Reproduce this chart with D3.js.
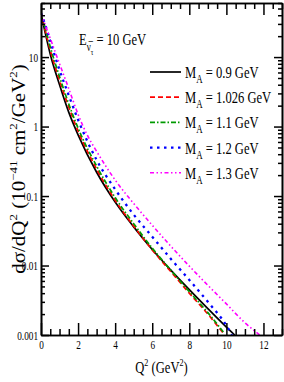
<!DOCTYPE html>
<html>
<head>
<meta charset="utf-8">
<script src="https://cdn.jsdelivr.net/npm/d3@7"></script>
<style>
  body { margin: 0; background: #fff; }
  text { font-family: "Liberation Serif", "Times New Roman", serif; fill: #000; }
</style>
</head>
<body>
<div id="vis"></div>
<script>
// Q^2 (GeV^2) and dsigma/dQ^2 (10^-41 cm^2/GeV^2)
const q2Ma090 = [0, 0.25, 0.5, 1, 1.5, 2, 3, 4, 5, 6, 7, 8, 9, 10, 10.45];
const dsMa090 = [43, 21, 11, 4.0, 1.6, 0.76, 0.22, 0.082, 0.036, 0.017, 0.0086, 0.0045, 0.0024, 0.0013, 0.001];

const q2Ma1026 = [0, 0.25, 0.5, 1, 1.5, 2, 3, 4, 5, 6, 7, 8, 9, 9.85];
const dsMa1026 = [43, 23, 12.5, 4.6, 1.9, 0.86, 0.245, 0.087, 0.037, 0.0168, 0.0082, 0.004, 0.002, 0.00105];

const q2Ma110 = [0, 0.25, 0.5, 1, 1.5, 2, 3, 4, 5, 6, 7, 8, 9, 9.9];
const dsMa110 = [43, 25, 14, 5.2, 2.1, 0.95, 0.27, 0.095, 0.04, 0.0178, 0.0086, 0.0042, 0.0021, 0.00105];

const q2Ma120 = [0, 0.25, 0.5, 1, 1.5, 2, 3, 4, 5, 6, 7, 8, 9, 10, 10.3];
const dsMa120 = [43, 28, 17, 6.5, 2.8, 1.25, 0.33, 0.125, 0.054, 0.026, 0.0125, 0.0062, 0.003, 0.00137, 0.001];

const q2Ma130 = [0, 0.25, 0.5, 1, 1.5, 2, 2.5, 3, 4, 5, 6, 7, 8, 9, 10, 11, 11.8];
const dsMa130 = [43, 28, 18.5, 8.0, 3.5, 1.5, 0.75, 0.44, 0.17, 0.078, 0.038, 0.019, 0.0098, 0.0052, 0.0028, 0.0015, 0.001];

const maLabels = ["0.9", "1.026", "1.1", "1.2", "1.3"];
const xMajorTicks = [0, 2, 4, 6, 8, 10, 12];
const yMajorTicks = [0.001, 0.01, 0.1, 1, 10];

const WIDTH = 284;
const HEIGHT = 382;
const MARGIN = { LEFT: 41, RIGHT: 2, TOP: 3, BOTTOM: 47 };
const SQUEEZE = 0.74; // the lettering in the picture is narrow

const series = [
  { q2: q2Ma090, ds: dsMa090, color: "#000000", dash: null, width: 1.7 },
  { q2: q2Ma1026, ds: dsMa1026, color: "#ff0000", dash: "5,3", width: 1.7 },
  { q2: q2Ma110, ds: dsMa110, color: "#009a00", dash: "5,2,1.5,2", width: 1.7 },
  { q2: q2Ma120, ds: dsMa120, color: "#0000ff", dash: "2.5,4.5", width: 2.3 },
  { q2: q2Ma130, ds: dsMa130, color: "#ff00ff", dash: "4,2.5,1.5,2.5,1.5,2.5", width: 1.6 },
];

const x = d3.scaleLinear()
  .domain([0, 13])
  .range([MARGIN.LEFT, WIDTH - MARGIN.RIGHT]);

const y = d3.scaleLog()
  .domain([0.001, 60])
  .range([HEIGHT - MARGIN.BOTTOM, MARGIN.TOP]);

const svg = d3.select("#vis")
  .append("svg")
  .attr("width", WIDTH)
  .attr("height", HEIGHT);

svg.append("defs").append("clipPath")
  .attr("id", "plot-clip")
  .append("rect")
  .attr("x", x.range()[0])
  .attr("y", y.range()[1])
  .attr("width", x.range()[1] - x.range()[0])
  .attr("height", y.range()[0] - y.range()[1]);

// curves
const line = d3.line()
  .x((d) => x(d[0]))
  .y((d) => y(d[1]))
  .curve(d3.curveMonotoneX);

svg.append("g")
  .attr("clip-path", "url(#plot-clip)")
  .selectAll("path")
  .data(series)
  .enter()
  .append("path")
  .attr("d", (s) => line(s.q2.map((q, i) => [q, s.ds[i]])))
  .attr("fill", "none")
  .attr("stroke", (s) => s.color)
  .attr("stroke-width", (s) => s.width)
  .attr("stroke-dasharray", (s) => s.dash);

// axes, ticks pointing inwards on all four sides
const xMinor = d3.range(0, 13.01, 0.5).filter((v) => v % 2 !== 0);
const yMinor = y.ticks().filter((v) => !yMajorTicks.some((m) => Math.abs(m - v) < m * 1e-6));
const bottomY = y.range()[0];
const topY = y.range()[1];

function styleAxis(g) {
  g.selectAll("path, line").attr("stroke", "#000").attr("stroke-width", 1.5);
  g.select(".domain").attr("stroke-width", 1.6);
}

svg.append("g")
  .attr("transform", `translate(0,${bottomY})`)
  .call(d3.axisBottom(x).tickValues(xMinor).tickSize(-6).tickSizeOuter(0).tickFormat(""))
  .call(styleAxis);

const xAxis = svg.append("g")
  .attr("transform", `translate(0,${bottomY})`)
  .call(d3.axisBottom(x).tickValues(xMajorTicks).tickSize(-12).tickSizeOuter(0).tickPadding(5).tickFormat(d3.format("d")))
  .call(styleAxis);
xAxis.selectAll("text")
  .attr("font-size", 12.5)
  .attr("font-family", "Liberation Serif")
  .attr("transform", `scale(${SQUEEZE},1)`);

svg.append("g")
  .attr("transform", `translate(0,${topY})`)
  .call(d3.axisTop(x).tickValues(xMinor).tickSize(-6).tickSizeOuter(0).tickFormat(""))
  .call(styleAxis);
svg.append("g")
  .attr("transform", `translate(0,${topY})`)
  .call(d3.axisTop(x).tickValues(xMajorTicks).tickSize(-12).tickSizeOuter(0).tickFormat(""))
  .call(styleAxis);

svg.append("g")
  .attr("transform", `translate(${x.range()[0]},0)`)
  .call(d3.axisLeft(y).tickValues(yMinor).tickSize(-4).tickSizeOuter(0).tickFormat(""))
  .call(styleAxis);

const yAxis = svg.append("g")
  .attr("transform", `translate(${x.range()[0]},0)`)
  .call(d3.axisLeft(y).tickValues(yMajorTicks).tickSize(-8).tickSizeOuter(0).tickFormat((d) => String(d)))
  .call(styleAxis);
yAxis.selectAll("text")
  .attr("font-size", 12.5)
  .attr("font-family", "Liberation Serif")
  .attr("x", -3 / SQUEEZE)
  .attr("transform", `scale(${SQUEEZE},1)`);

svg.append("g")
  .attr("transform", `translate(${x.range()[1]},0)`)
  .call(d3.axisRight(y).tickValues(yMinor).tickSize(-4).tickSizeOuter(0).tickFormat(""))
  .call(styleAxis);
svg.append("g")
  .attr("transform", `translate(${x.range()[1]},0)`)
  .call(d3.axisRight(y).tickValues(yMajorTicks).tickSize(-8).tickSizeOuter(0).tickFormat(""))
  .call(styleAxis);

// axis titles
const xTitle = svg.append("g")
  .attr("transform", `translate(${(x.range()[0] + x.range()[1]) / 2},373)`)
  .append("text")
  .attr("transform", `scale(${SQUEEZE},1)`)
  .attr("text-anchor", "middle")
  .attr("font-size", 17);
xTitle.append("tspan").text("Q");
xTitle.append("tspan").attr("font-size", 11).attr("dy", -7).text("2");
xTitle.append("tspan").attr("dy", 7).text(" (GeV");
xTitle.append("tspan").attr("font-size", 11).attr("dy", -7).text("2");
xTitle.append("tspan").attr("dy", 7).text(")");

const yTitle = svg.append("g")
  .attr("transform", `translate(25,${(y.range()[0] + y.range()[1]) / 2}) rotate(-90)`)
  .append("text")
  .attr("text-anchor", "middle")
  .attr("transform", "scale(1,0.85)")
  .attr("font-size", 21);
yTitle.append("tspan").text("dσ/dQ");
yTitle.append("tspan").attr("font-size", 13).attr("dy", -9).text("2");
yTitle.append("tspan").attr("dy", 9).text(" (10");
yTitle.append("tspan").attr("font-size", 13).attr("dy", -9).text("−41");
yTitle.append("tspan").attr("dy", 9).text(" cm");
yTitle.append("tspan").attr("font-size", 13).attr("dy", -9).text("2");
yTitle.append("tspan").attr("dy", 9).text("/GeV");
yTitle.append("tspan").attr("font-size", 13).attr("dy", -9).text("2");
yTitle.append("tspan").attr("dy", 9).text(")");

// beam energy label
const eLabel = svg.append("g")
  .attr("transform", "translate(79,45)")
  .append("text")
  .attr("transform", `scale(${SQUEEZE},1)`)
  .attr("font-size", 17);
eLabel.append("tspan").text("E");
eLabel.append("tspan").attr("font-size", 12).attr("dy", 6).text("ν\u0305");
eLabel.append("tspan").attr("font-size", 9).attr("dy", 4).text("τ");
eLabel.append("tspan").attr("dy", -10).text(" = 10 GeV");

// legend
const LEGEND_Y0 = 72;
const LEGEND_DY = 25.2;
const legend = svg.append("g")
  .selectAll("g")
  .data(series)
  .enter()
  .append("g")
  .attr("transform", (d, i) => `translate(150,${LEGEND_Y0 + i * LEGEND_DY})`);

legend.append("line")
  .attr("x1", 0)
  .attr("x2", 31)
  .attr("stroke", (s) => s.color)
  .attr("stroke-width", (s) => s.width)
  .attr("stroke-dasharray", (s) => s.dash);

const legendText = legend.append("text")
  .attr("transform", `translate(35,6) scale(${SQUEEZE},1)`)
  .attr("font-size", 17);
legendText.append("tspan").text("M");
legendText.append("tspan").attr("font-size", 12).attr("dy", 5).text("A");
legendText.append("tspan").attr("dy", -5).text((s, i) => ` = ${maLabels[i]} GeV`);
</script>
</body>
</html>
